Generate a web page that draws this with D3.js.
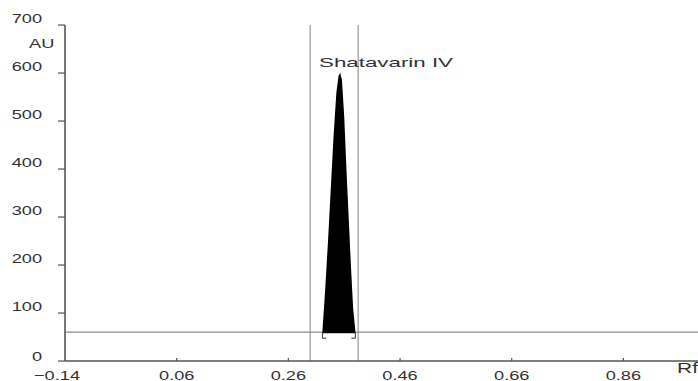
<!DOCTYPE html>
<html><head><meta charset="utf-8">
<script src="https://cdn.jsdelivr.net/npm/d3@7"></script>
<style>body{margin:0;background:#fff}svg{display:block}text{font-family:"Liberation Sans",Arial,sans-serif;fill:#333}</style>
</head><body>
<script>
// Data
const xTicks = [-0.14, 0.06, 0.26, 0.46, 0.66, 0.86];
const yTicks = [0, 100, 200, 300, 400, 500, 600, 700];
const peakRf = [0.321, 0.326, 0.331, 0.336, 0.341, 0.346, 0.350, 0.353, 0.356, 0.360, 0.364, 0.368, 0.372, 0.376, 0.380];
const peakAU = [62, 150, 250, 360, 470, 560, 595, 600, 585, 510, 400, 300, 200, 110, 62];
const baselineAU = 60;
const bandRf = [0.299, 0.385];
const peakLabel = "Shatavarin IV";

const W = 698, H = 381;
const svg = d3.select("body").append("svg").attr("width", W).attr("height", H);
const x = d3.scaleLinear().domain([-0.14, 0.86]).range([65, 623.4]);
const y = d3.scaleLinear().domain([0, 700]).range([361, 25]);
const xEnd = W;

// vertical band lines
svg.selectAll("line.band").data(bandRf).join("line")
  .attr("x1", d => x(d)).attr("x2", d => x(d)).attr("y1", y(700)).attr("y2", y(0))
  .attr("stroke", "#9a9a9a").attr("stroke-width", 1.2);

// baseline
svg.append("line").attr("x1", x(-0.14)).attr("x2", xEnd)
  .attr("y1", y(baselineAU)).attr("y2", y(baselineAU))
  .attr("stroke", "#8a8a8a").attr("stroke-width", 1.2);

// peak
const pts = peakRf.map((r, i) => [r, peakAU[i]]);
const area = d3.area().x(d => x(d[0])).y0(y(baselineAU) + 1).y1(d => y(d[1]));
svg.append("path").datum(pts).attr("d", area).attr("fill", "#000");

// brackets
const r0 = peakRf[0], r1 = peakRf[peakRf.length - 1];
const by = y(baselineAU);
svg.append("path").attr("d", `M${x(r0)},${by}V${by+6}h4`).attr("fill","none").attr("stroke","#333").attr("stroke-width",1);
svg.append("path").attr("d", `M${x(r1)},${by}V${by+6}h-4`).attr("fill","none").attr("stroke","#333").attr("stroke-width",1);

// axes
svg.append("line").attr("x1", x(-0.14)).attr("x2", x(-0.14)).attr("y1", y(700)).attr("y2", y(0))
  .attr("stroke", "#555").attr("stroke-width", 1.6);
svg.append("line").attr("x1", x(-0.14)).attr("x2", xEnd).attr("y1", y(0)).attr("y2", y(0))
  .attr("stroke", "#555").attr("stroke-width", 1.6);

// y ticks
svg.selectAll("line.yt").data(yTicks).join("line")
  .attr("x1", x(-0.14) - 7).attr("x2", x(-0.14)).attr("y1", d => y(d)).attr("y2", d => y(d))
  .attr("stroke", "#555").attr("stroke-width", 1.2);
svg.selectAll("text.yl").data(yTicks).join("text")
  .attr("text-anchor", "end").attr("font-size", 13)
  .attr("transform", d => `translate(42,${y(d) - (d === 0 ? 0 : 2)}) scale(1.4,1)`)
  .text(d => d);

// x ticks
svg.selectAll("line.xt").data(xTicks.slice(1)).join("line")
  .attr("x1", d => x(d)).attr("x2", d => x(d)).attr("y1", y(0) - 3).attr("y2", y(0))
  .attr("stroke", "#555").attr("stroke-width", 1.2);
svg.selectAll("text.xl").data(xTicks).join("text")
  .attr("text-anchor", "middle").attr("font-size", 13)
  .attr("transform", d => `translate(${x(d) - (d < 0 ? 8 : 0)},380) scale(1.4,1)`)
  .text(d => d < 0 ? "\u2212" + Math.abs(d).toFixed(2) : d.toFixed(2));

// axis titles
svg.append("text").attr("font-size", 13).attr("transform", "translate(29,48) scale(1.4,1)").text("AU");
svg.append("text").attr("font-size", 15).attr("transform", "translate(677,373) scale(1.4,1)").text("Rf");

// peak label
svg.append("text").attr("font-size", 13).attr("x", 319).attr("y", 67)
  .attr("textLength", 134).attr("lengthAdjust", "spacingAndGlyphs").text(peakLabel);
</script>
</body></html>
